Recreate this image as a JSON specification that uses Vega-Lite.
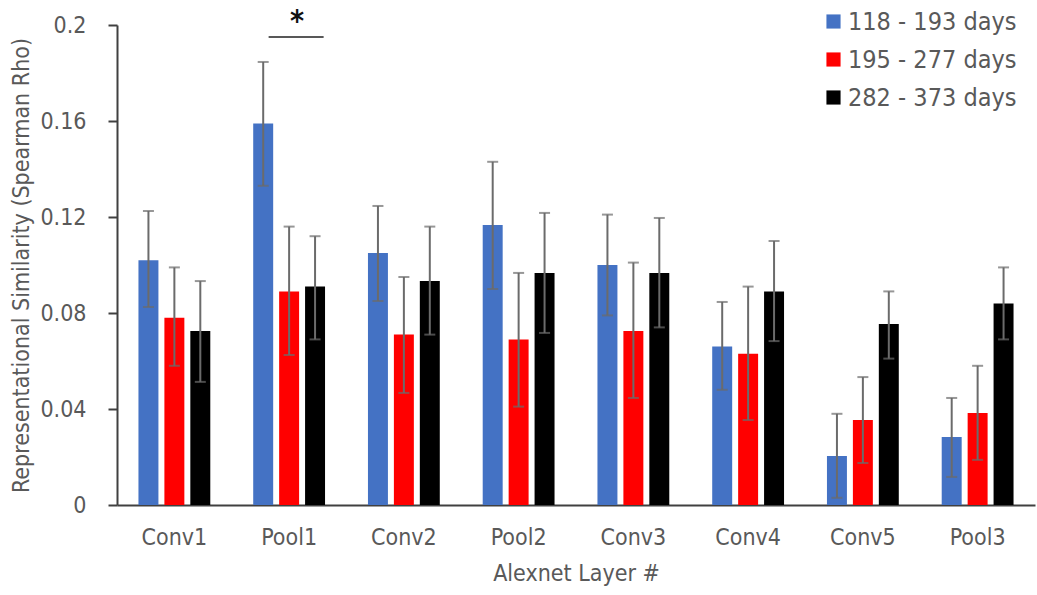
{
  "$schema": "https://vega.github.io/schema/vega-lite/v6.json",
  "width": 918,
  "height": 480,
  "autosize": {"type": "none"},
  "padding": {"left": 117, "top": 25, "right": 2, "bottom": 90},
  "config": {
    "view": {"stroke": null},
    "font": "DejaVu Sans Condensed, DejaVu Sans, sans-serif",
    "axis": {"grid": false, "labelColor": "#595959", "titleColor": "#595959", "titleFontWeight": "normal", "domainColor": "#404040", "domainWidth": 2, "tickColor": "#404040", "tickWidth": 2},
    "legend": {"labelColor": "#595959"}
  },
  "datasets": {
    "bars": [
      {"layer": "Conv1", "group": "118 - 193 days", "value": 0.102, "lo": 0.0825, "hi": 0.1225},
      {"layer": "Conv1", "group": "195 - 277 days", "value": 0.078, "lo": 0.058, "hi": 0.099},
      {"layer": "Conv1", "group": "282 - 373 days", "value": 0.0725, "lo": 0.0513, "hi": 0.0933},
      {"layer": "Pool1", "group": "118 - 193 days", "value": 0.159, "lo": 0.133, "hi": 0.1846},
      {"layer": "Pool1", "group": "195 - 277 days", "value": 0.089, "lo": 0.0625, "hi": 0.116},
      {"layer": "Pool1", "group": "282 - 373 days", "value": 0.091, "lo": 0.069, "hi": 0.112},
      {"layer": "Conv2", "group": "118 - 193 days", "value": 0.105, "lo": 0.085, "hi": 0.1246},
      {"layer": "Conv2", "group": "195 - 277 days", "value": 0.071, "lo": 0.0467, "hi": 0.095},
      {"layer": "Conv2", "group": "282 - 373 days", "value": 0.0933, "lo": 0.071, "hi": 0.116},
      {"layer": "Pool2", "group": "118 - 193 days", "value": 0.1167, "lo": 0.09, "hi": 0.143},
      {"layer": "Pool2", "group": "195 - 277 days", "value": 0.069, "lo": 0.041, "hi": 0.0967},
      {"layer": "Pool2", "group": "282 - 373 days", "value": 0.0967, "lo": 0.0717, "hi": 0.1217},
      {"layer": "Conv3", "group": "118 - 193 days", "value": 0.1, "lo": 0.079, "hi": 0.121},
      {"layer": "Conv3", "group": "195 - 277 days", "value": 0.0725, "lo": 0.0446, "hi": 0.101},
      {"layer": "Conv3", "group": "282 - 373 days", "value": 0.0967, "lo": 0.074, "hi": 0.1196},
      {"layer": "Conv4", "group": "118 - 193 days", "value": 0.066, "lo": 0.048, "hi": 0.0846},
      {"layer": "Conv4", "group": "195 - 277 days", "value": 0.063, "lo": 0.0354, "hi": 0.091},
      {"layer": "Conv4", "group": "282 - 373 days", "value": 0.089, "lo": 0.0683, "hi": 0.11},
      {"layer": "Conv5", "group": "118 - 193 days", "value": 0.0204, "lo": 0.003, "hi": 0.038},
      {"layer": "Conv5", "group": "195 - 277 days", "value": 0.0354, "lo": 0.0175, "hi": 0.0533},
      {"layer": "Conv5", "group": "282 - 373 days", "value": 0.0754, "lo": 0.061, "hi": 0.089},
      {"layer": "Pool3", "group": "118 - 193 days", "value": 0.0283, "lo": 0.0117, "hi": 0.0446},
      {"layer": "Pool3", "group": "195 - 277 days", "value": 0.0383, "lo": 0.0188, "hi": 0.058},
      {"layer": "Pool3", "group": "282 - 373 days", "value": 0.084, "lo": 0.069, "hi": 0.099}
    ],
    "sig": [{"layer": "Pool1", "y": 0.195, "label": "*"}]
  },
  "layer": [
    {
      "data": {"name": "bars"},
      "encoding": {
        "x": {
          "field": "layer", "type": "nominal",
          "sort": ["Conv1", "Pool1", "Conv2", "Pool2", "Conv3", "Conv4", "Conv5", "Pool3"],
          "scale": {"paddingInner": 0.374, "paddingOuter": 0.187},
          "axis": {"title": "Alexnet Layer #", "labelAngle": 0, "ticks": false, "labelPadding": 21, "labelFontSize": 23, "titleFontSize": 23, "titlePadding": 13}
        },
        "xOffset": {
          "field": "group", "type": "nominal",
          "sort": ["118 - 193 days", "195 - 277 days", "282 - 373 days"],
          "scale": {"paddingInner": 0.23, "paddingOuter": 0}
        }
      },
      "layer": [
        {
          "mark": {"type": "bar"},
          "encoding": {
            "y": {
              "field": "value", "type": "quantitative",
              "scale": {"domain": [0, 0.2], "nice": false},
              "axis": {"title": "Representational Similarity (Spearman Rho)", "values": [0, 0.04, 0.08, 0.12, 0.16, 0.2], "format": ".2~f", "tickSize": 9, "labelPadding": 22, "labelFontSize": 23, "titleFontSize": 23, "titleLimit": 1000, "titlePadding": 6}
            },
            "color": {
              "field": "group", "type": "nominal",
              "scale": {"domain": ["118 - 193 days", "195 - 277 days", "282 - 373 days"], "range": ["#4472C4", "#FF0000", "#000000"]},
              "legend": {"title": null, "orient": "none", "legendX": 704, "legendY": -16, "symbolType": "square", "symbolSize": 200, "symbolStrokeWidth": 0, "labelFontSize": 25, "labelLimit": 400, "rowPadding": 12, "labelOffset": 2}
            }
          }
        },
        {
          "mark": {"type": "rule", "color": "#6b6b6b", "strokeWidth": 2},
          "encoding": {
            "y": {"field": "lo", "type": "quantitative"},
            "y2": {"field": "hi"}
          }
        },
        {
          "mark": {"type": "tick", "color": "#6b6b6b", "thickness": 2, "size": 11, "orient": "horizontal"},
          "encoding": {"y": {"field": "lo", "type": "quantitative"}}
        },
        {
          "mark": {"type": "tick", "color": "#6b6b6b", "thickness": 2, "size": 11, "orient": "horizontal"},
          "encoding": {"y": {"field": "hi", "type": "quantitative"}}
        }
      ]
    },
    {
      "data": {"name": "sig"},
      "encoding": {
        "x": {"field": "layer", "type": "nominal", "sort": ["Conv1", "Pool1", "Conv2", "Pool2", "Conv3", "Conv4", "Conv5", "Pool3"]},
        "y": {"field": "y", "type": "quantitative"}
      },
      "layer": [
        {
          "mark": {"type": "tick", "color": "#111111", "thickness": 2, "size": 55, "orient": "horizontal", "xOffset": 7}
        },
        {
          "mark": {"type": "text", "color": "#111111", "fontSize": 30, "fontWeight": "bold", "baseline": "bottom", "dx": 8},
          "encoding": {"text": {"field": "label"}}
        }
      ]
    }
  ]
}
